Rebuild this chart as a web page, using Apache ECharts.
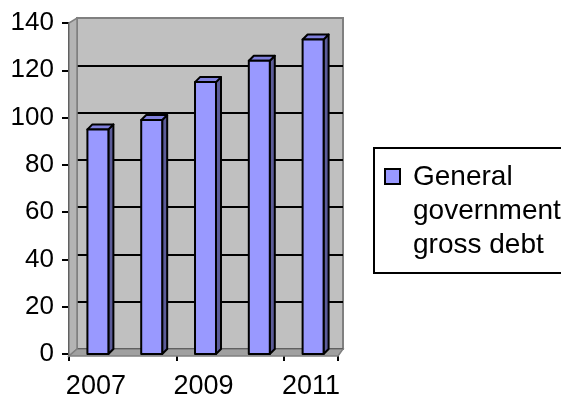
<!DOCTYPE html>
<html>
<head>
<meta charset="utf-8">
<script src="https://cdn.jsdelivr.net/npm/echarts@6/dist/echarts.min.js"></script>
<style>
  html, body { margin: 0; padding: 0; background: #fff; }
  #chart { width: 561px; height: 400px; }
</style>
</head>
<body>
<div id="chart"></div>
<script>
// data
const years = ['2007', '2008', '2009', '2010', '2011']
const debt = [95, 99, 115, 124, 133]
const seriesName = 'General government gross debt'
const legendLines = ['General', 'government', 'gross debt']
const yMin = 0
const yMax = 140
const yStep = 20

// layout of the pseudo 3d box
const front = { left: 69, top: 23, width: 269, height: 333 }
const back = { left: 77, top: 18, width: 266, height: 331 }
const depth = 5
const font = '"Liberation Sans", Arial, sans-serif'

const chart = echarts.init(document.getElementById('chart'))

// back wall gridlines: top edge grey
const gridColors = []
for (let v = yMin; v <= yMax; v += yStep) {
  gridColors.push(v === yMax ? '#808080' : '#000')
}

const fBottom = front.top + front.height
const bBottom = back.top + back.height
const fRight = front.left + front.width
const bRight = back.left + back.width

const renderBar = (params, api) => {
  const idx = api.value(0)
  const val = api.value(1)
  const top = api.coord([idx, val])
  const base = api.coord([idx, 0])
  const w = api.size([1, 0])[0] * 0.39
  const cx = top[0] + 2
  const x0 = cx - w / 2
  const x1 = cx + w / 2
  const stroke = { stroke: '#000', lineWidth: 2, lineJoin: 'round' }
  return {
    type: 'group',
    children: [
      {
        type: 'polygon',
        shape: { points: [[x1, top[1]], [x1 + depth, top[1] - depth], [x1 + depth, base[1] - depth], [x1, base[1]]] },
        style: Object.assign({ fill: '#5c5c99' }, stroke)
      },
      {
        type: 'polygon',
        shape: { points: [[x0, top[1]], [x0 + depth, top[1] - depth], [x1 + depth, top[1] - depth], [x1, top[1]]] },
        style: Object.assign({ fill: '#8080dd' }, stroke)
      },
      {
        type: 'rect',
        shape: { x: x0, y: top[1], width: w, height: base[1] - top[1] },
        style: Object.assign({ fill: '#9999ff' }, stroke)
      }
    ]
  }
}

const option = {
  animation: false,
  backgroundColor: '#fff',
  grid: [
    Object.assign({ show: true, backgroundColor: '#c0c0c0', borderColor: '#808080', borderWidth: 2 }, back),
    Object.assign({}, front)
  ],
  xAxis: [
    {
      gridIndex: 0, type: 'category', data: years,
      axisLine: { show: false }, axisTick: { show: false }, axisLabel: { show: false }
    },
    {
      gridIndex: 1, type: 'category', data: years,
      axisLine: { lineStyle: { color: '#000', width: 2 } },
      axisTick: { show: true, length: 7, lineStyle: { color: '#000', width: 2 } },
      axisLabel: { interval: 1, color: '#000', fontSize: 27, fontFamily: font, margin: 19 },
      splitLine: { show: false }
    }
  ],
  yAxis: [
    {
      gridIndex: 0, type: 'value', min: yMin, max: yMax, interval: yStep,
      axisLine: { show: false }, axisTick: { show: false }, axisLabel: { show: false },
      splitLine: { show: true, lineStyle: { color: gridColors, width: 2 } }
    },
    {
      gridIndex: 1, type: 'value', min: yMin, max: yMax, interval: yStep,
      axisLine: { show: true, lineStyle: { color: '#000', width: 2 } },
      axisTick: { show: true, length: 7, lineStyle: { color: '#000', width: 2 } },
      axisLabel: { color: '#000', fontSize: 26, fontFamily: font, margin: 15 },
      splitLine: { show: false }
    }
  ],
  graphic: [
    {
      // left wall
      type: 'polygon', z: 1,
      shape: { points: [[front.left, front.top], [back.left, back.top], [back.left, bBottom], [front.left, fBottom]] },
      style: { fill: '#b4b4b4', stroke: '#808080', lineWidth: 1.5 }
    },
    {
      // floor
      type: 'polygon', z: 1,
      shape: { points: [[front.left, fBottom], [back.left, bBottom], [bRight, bBottom], [fRight, fBottom]] },
      style: { fill: '#a0a0a0', stroke: '#808080', lineWidth: 1.5 }
    },
    {
      // legend
      type: 'group', left: 373, top: 147,
      children: [
        {
          type: 'rect', shape: { x: 0, y: 0, width: 200, height: 125 },
          style: { fill: '#fff', stroke: '#000', lineWidth: 2 }
        },
        {
          type: 'rect', shape: { x: 11, y: 21, width: 15, height: 15 },
          style: { fill: '#9999ff', stroke: '#000', lineWidth: 2 }
        },
        {
          type: 'text', x: 39, y: 12,
          style: { text: legendLines.join('\n'), font: '28px ' + font, fill: '#000', lineHeight: 34 }
        }
      ]
    }
  ],
  series: [
    {
      name: seriesName,
      type: 'custom',
      xAxisIndex: 1,
      yAxisIndex: 1,
      z: 3,
      renderItem: renderBar,
      data: debt.map((v, i) => [i, v])
    }
  ]
}

chart.setOption(option)
</script>
</body>
</html>
